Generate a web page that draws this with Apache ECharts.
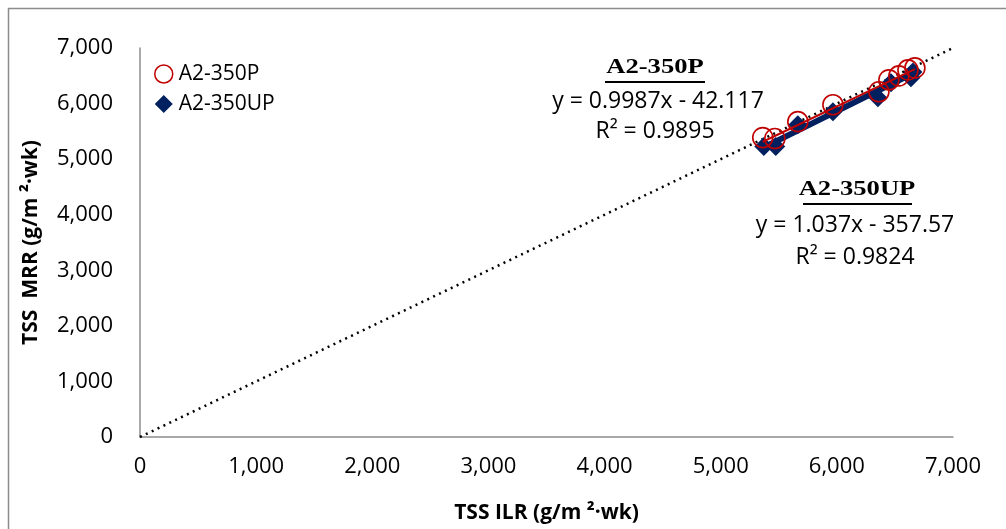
<!DOCTYPE html>
<html><head><meta charset="utf-8">
<script src="https://cdn.jsdelivr.net/npm/echarts@6/dist/echarts.min.js"></script>
<style>html,body{margin:0;padding:0;background:#fff}#c{width:1006px;height:529px}</style>
</head><body><div id="c"></div>
<script>
// Data
const seriesNames = ['A2-350P', 'A2-350UP'];
const pILR = [5362, 5466, 5664, 5966, 6362, 6448, 6534, 6612, 6672];
const pMRR = [5388, 5371, 5675, 5979, 6212, 6427, 6498, 6606, 6642];
const upILR = [5371, 5474, 5664, 5966, 6353, 6466, 6638, 6655];
const upMRR = [5227, 5227, 5621, 5854, 6105, 6373, 6463, 6570];
const pFit = {slope: 0.9987, intercept: -42.117, r2: 0.9895};
const upFit = {slope: 1.037, intercept: -357.57, r2: 0.9824};
const oneToOne = [[0, 0], [7000, 7000]];
const axisMin = 0, axisMax = 7000, axisStep = 1000;

const font = '"Open Sans", "Liberation Sans", sans-serif';
const serif = '"Liberation Serif", "DejaVu Serif", serif';
const pPts = pILR.map((x, i) => [x, pMRR[i]]);
const upPts = upILR.map((x, i) => [x, upMRR[i]]);
function fitLine(xs, f) {
  const a = Math.min(...xs), b = Math.max(...xs);
  return [[a, f.slope * a + f.intercept], [b, f.slope * b + f.intercept]];
}
const fmt = v => v.toLocaleString('en-US');
function txt(x, y, text, f, extra) {
  return Object.assign({type: 'text', x: x, y: y, silent: true,
    style: {text: text, font: f, fill: '#000', textAlign: 'center', textVerticalAlign: 'middle'}}, extra || {});
}

const chart = echarts.init(document.getElementById('c'));
chart.setOption({
  animation: false,
  backgroundColor: '#fff',
  grid: {left: 140, top: 48, right: 53, bottom: 90, containLabel: false},
  xAxis: {
    type: 'value', min: axisMin, max: axisMax, interval: axisStep,
    axisLine: {show: true, lineStyle: {color: '#8c8c8c', width: 1.5}},
    axisTick: {show: false}, splitLine: {show: false},
    axisLabel: {color: '#000', fontFamily: font, fontSize: 22, margin: 19, formatter: fmt},
    name: 'TSS ILR (g/m \u00B2\u00B7wk)', nameLocation: 'middle', nameGap: 66,
    nameTextStyle: {color: '#000', fontFamily: font, fontSize: 21, fontWeight: 'bold'}
  },
  yAxis: {
    type: 'value', min: axisMin, max: axisMax, interval: axisStep,
    axisLine: {show: true, lineStyle: {color: '#8c8c8c', width: 1.5}},
    axisTick: {show: false}, splitLine: {show: false},
    axisLabel: {color: '#000', fontFamily: font, fontSize: 22, margin: 27, formatter: fmt},
    name: 'TSS  MRR (g/m \u00B2\u00B7wk)', nameLocation: 'middle', nameGap: 98, nameRotate: 90,
    nameTextStyle: {color: '#000', fontFamily: font, fontSize: 21, fontWeight: 'bold'}
  },
  legend: {
    left: 154, top: 62, padding: 0, orient: 'vertical', itemGap: 6, itemWidth: 18, itemHeight: 18,
    textStyle: {color: '#000', fontFamily: font, fontSize: 21, lineHeight: 24, padding: [0, 0, 0, 1]},
    data: [
      {name: seriesNames[0], icon: 'circle', itemStyle: {color: '#fff', borderColor: '#c00000', borderWidth: 1.5}},
      {name: seriesNames[1], icon: 'diamond', itemStyle: {color: '#002060'}}
    ]
  },
  series: [
    {type: 'line', data: oneToOne, symbol: 'none', silent: true, z: 1,
      lineStyle: {color: '#000', width: 2.5, type: [2, 4.5]}},
    {name: seriesNames[1], type: 'scatter', data: upPts, symbol: 'diamond', symbolSize: 19,
      itemStyle: {color: '#002060', opacity: 1}, z: 3},
    {type: 'line', data: fitLine(upILR, upFit), symbol: 'none', silent: true, z: 4,
      lineStyle: {color: '#002060', width: 6}},
    {name: seriesNames[0], type: 'scatter', data: pPts, symbol: 'circle', symbolSize: 20,
      itemStyle: {color: 'rgba(0,0,0,0)', borderColor: '#c00000', borderWidth: 1.6, opacity: 1}, z: 5},
    {type: 'line', data: fitLine(pILR, pFit), symbol: 'none', silent: true, z: 6,
      lineStyle: {color: '#c00000', width: 2}}
  ],
  graphic: [
    {type: 'rect', shape: {x: 8.5, y: 8.5, width: 1010, height: 530}, silent: true,
      style: {fill: 'none', stroke: '#8c8c8c', lineWidth: 1.5}},
    txt(655, 68, seriesNames[0], 'bold 20px ' + serif, {scaleX: 1.33, originX: 0, originY: 0}),
    {type: 'line', shape: {x1: 605, y1: 82, x2: 705, y2: 82}, style: {stroke: '#000', lineWidth: 2}},
    txt(658, 101, 'y = ' + pFit.slope + 'x - ' + Math.abs(pFit.intercept), '23px ' + font),
    txt(655, 131, 'R\u00B2 = ' + pFit.r2, '23px ' + font),
    txt(857, 190, seriesNames[1], 'bold 20px ' + serif, {scaleX: 1.33, originX: 0, originY: 0}),
    {type: 'line', shape: {x1: 803, y1: 204, x2: 912, y2: 204}, style: {stroke: '#000', lineWidth: 2}},
    txt(855, 225, 'y = ' + upFit.slope + 'x - ' + Math.abs(upFit.intercept), '23px ' + font),
    txt(855, 257, 'R\u00B2 = ' + upFit.r2, '23px ' + font)
  ]
});
</script></body></html>
